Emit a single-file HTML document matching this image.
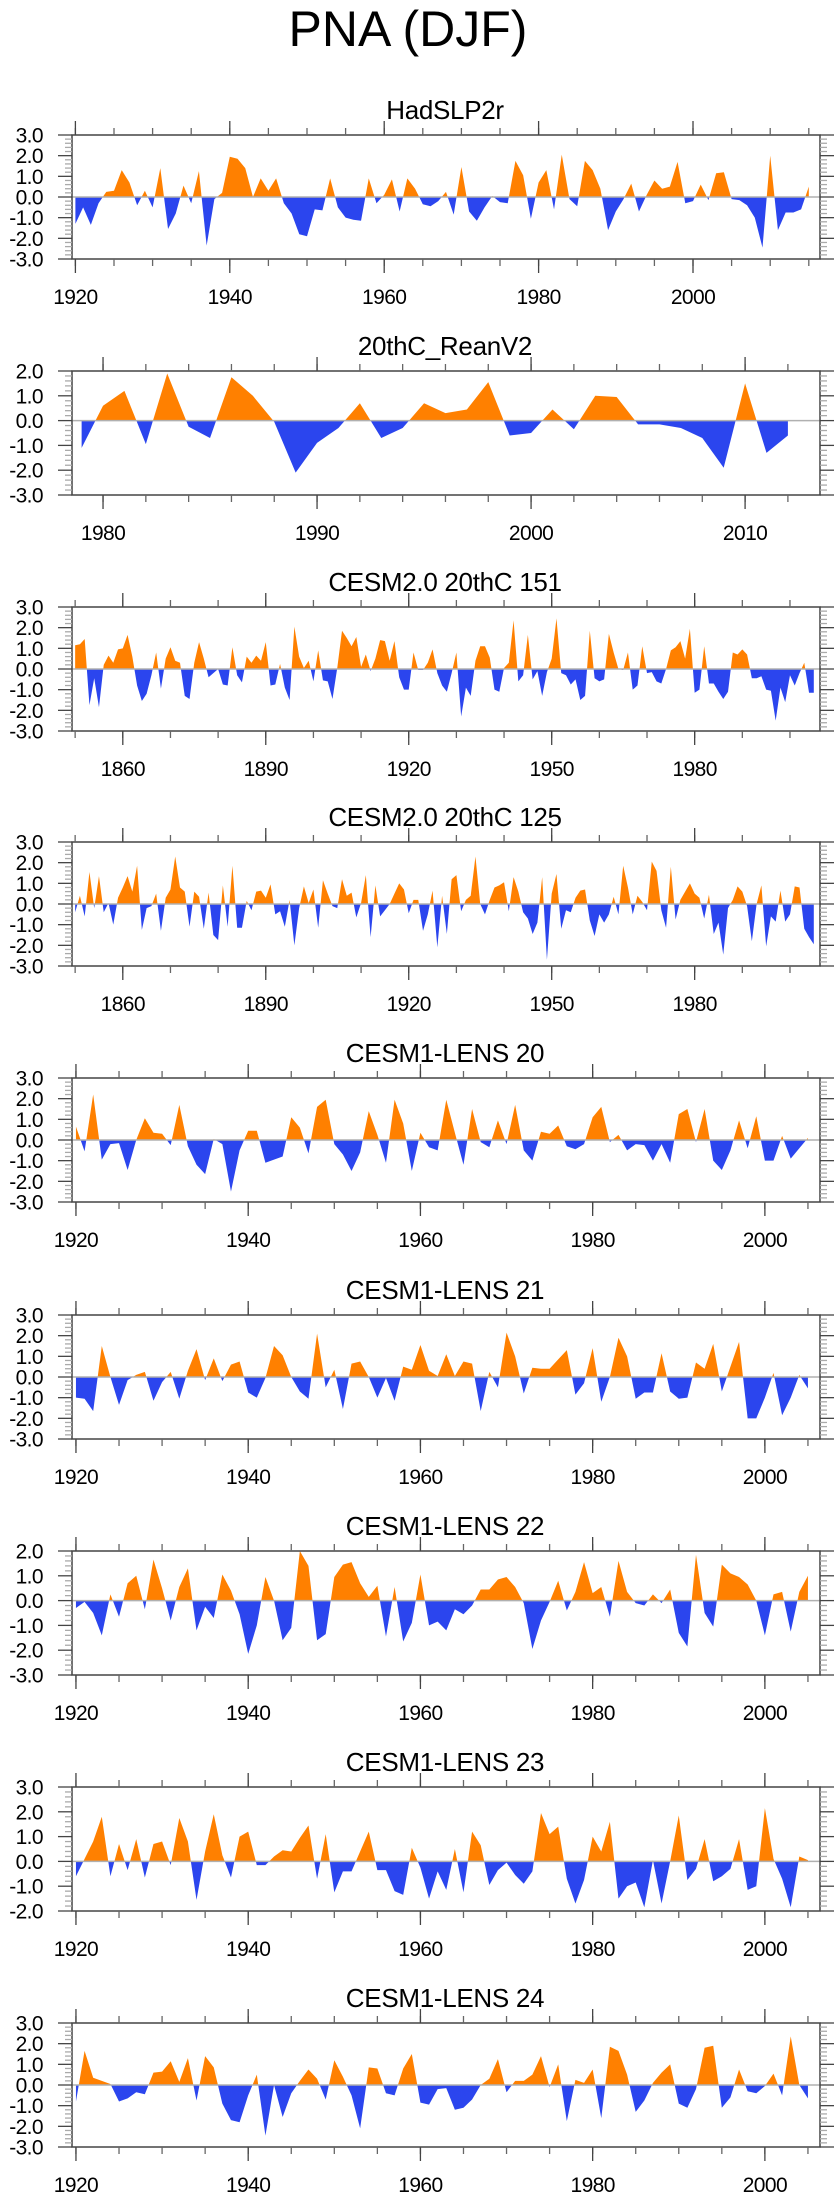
<!DOCTYPE html>
<html><head><meta charset="utf-8"><style>
html,body{margin:0;padding:0;background:#fff;}
svg{display:block;font-family:"Liberation Sans",sans-serif;}
</style></head><body>
<svg id="fig" width="840" height="2200" viewBox="0 0 840 2200" xmlns="http://www.w3.org/2000/svg">
<rect width="840" height="2200" fill="#fff"/>
<text x="408" y="46" font-size="50" text-anchor="middle" fill="#000">PNA (DJF)</text>
</svg>
<script>
const hadStart = 1920;
const hadValues = [-1.3,-0.5,-1.35,-0.3,0.25,0.3,1.3,0.7,-0.4,0.3,-0.5,1.4,-1.55,-0.8,0.55,-0.3,1.25,-2.35,-0.1,0.2,1.95,1.85,1.4,0.0,0.9,0.3,0.9,-0.3,-0.8,-1.8,-1.9,-0.6,-0.65,0.9,-0.5,-1.0,-1.1,-1.15,0.9,-0.3,0.1,0.85,-0.7,0.9,0.4,-0.35,-0.45,-0.2,0.25,-0.85,1.45,-0.7,-1.15,-0.5,0.05,-0.25,-0.3,1.75,1.05,-1.05,0.7,1.3,-0.6,2.05,-0.1,-0.45,1.75,1.3,0.4,-1.6,-0.7,-0.1,0.65,-0.7,0.1,0.8,0.4,0.5,1.7,-0.3,-0.2,0.6,-0.15,1.15,1.2,-0.1,-0.15,-0.4,-1.0,-2.45,2.0,-1.6,-0.75,-0.75,-0.6,0.5];
const reanStart = 1979;
const reanValues = [-1.1,0.6,1.2,-0.95,1.9,-0.25,-0.7,1.75,1.0,-0.05,-2.1,-0.9,-0.3,0.7,-0.7,-0.3,0.7,0.3,0.45,1.55,-0.6,-0.5,0.45,-0.35,1.0,0.95,-0.15,-0.15,-0.3,-0.7,-1.9,1.5,-1.3,-0.6];
const c151Start = 1850;
const c151Values = [1.15,1.2,1.45,-1.75,-0.45,-1.85,0.2,0.65,0.3,0.95,1.0,1.65,0.6,-0.8,-1.55,-1.2,-0.3,0.8,-0.95,0.5,1.05,0.4,0.3,-1.3,-1.45,0.3,1.3,0.5,-0.4,-0.2,0.0,-0.75,-0.8,1.05,-0.3,-0.65,0.6,0.3,0.65,0.4,1.3,-0.8,-0.75,0.25,-0.9,-1.5,2.05,0.6,0.05,0.4,-0.6,0.9,-0.55,-0.6,-1.45,0.05,1.85,1.5,1.1,1.55,0.1,0.7,-0.1,0.5,1.4,1.35,0.4,1.35,-0.4,-1.0,-1.0,0.8,-0.05,-0.05,0.3,0.95,-0.2,-0.8,-1.1,-0.2,0.8,-2.3,-0.9,-1.3,0.4,1.1,1.1,0.55,-1.0,-1.1,0.05,0.3,2.35,-0.6,-0.3,1.65,-0.5,-0.1,-1.3,-0.15,0.5,2.45,-0.2,-0.3,-0.75,-0.5,-1.5,-1.3,1.85,-0.45,-0.6,-0.5,1.7,0.8,0.0,-0.05,0.8,-1.0,-0.8,1.1,-0.2,-0.15,-0.6,-0.7,0.0,0.9,1.05,1.35,0.5,1.95,-1.15,-1.0,1.1,-0.7,-0.7,-1.1,-1.45,-1.1,0.8,0.7,0.95,0.7,-0.45,-0.45,-0.35,-1.0,-1.05,-2.5,-0.9,-1.6,-0.3,-0.8,-0.2,0.3,-1.15,-1.15];
const c125Start = 1850;
const c125Values = [-0.4,0.4,-0.6,1.55,-0.2,1.35,-0.4,0.05,-1.0,0.3,0.8,1.35,0.6,1.85,-1.25,-0.2,-0.1,0.5,-1.3,0.3,0.7,2.3,0.8,0.6,-1.1,0.6,0.35,-1.2,0.55,-1.5,-1.75,0.9,-1.1,1.85,-1.15,-1.15,0.15,-0.3,0.6,0.65,0.3,0.95,-0.5,-0.35,-1.1,0.2,-2.0,-0.2,0.85,0.05,0.7,-1.15,1.15,0.5,-0.1,-0.2,1.2,0.4,0.55,-0.65,0.05,1.4,-1.6,0.9,-0.6,-0.3,0.0,0.5,1.0,0.7,-0.45,0.2,0.2,-1.3,-0.5,0.65,-2.1,0.4,-1.45,1.2,1.4,-0.35,0.2,0.4,2.3,0.0,-0.5,0.2,0.8,0.9,1.05,-0.35,1.3,0.6,-0.4,-0.7,-1.45,-0.9,1.3,-2.7,0.5,1.45,-1.2,-0.3,-0.4,0.3,0.65,0.7,-0.8,-1.55,-0.5,-0.9,-0.5,0.35,-0.5,1.85,0.8,-0.5,0.4,0.1,-0.3,2.05,1.6,-0.3,-1.15,1.8,-0.75,0.2,0.6,1.0,0.5,0.3,-0.7,0.45,-1.45,-0.9,-2.45,-0.2,0.2,0.85,0.6,-0.1,-1.8,0.0,0.9,-2.05,-0.6,-0.85,0.65,-0.85,-0.5,0.85,0.8,-1.2,-1.6,-1.95];
const l20Start = 1920;
const l20Values = [0.65,-0.55,2.2,-0.95,-0.2,-0.15,-1.45,0.0,1.05,0.35,0.3,-0.25,1.7,-0.3,-1.2,-1.65,0.05,-0.2,-2.5,-0.5,0.45,0.45,-1.1,-0.95,-0.8,1.1,0.6,-0.65,1.6,1.95,-0.2,-0.7,-1.5,-0.6,1.4,0.25,-1.1,1.95,0.8,-1.5,0.35,-0.35,-0.5,1.95,0.35,-1.2,1.5,-0.1,-0.35,0.95,-0.2,1.7,-0.5,-1.0,0.4,0.3,0.7,-0.3,-0.45,-0.2,1.1,1.6,-0.1,0.25,-0.5,-0.2,-0.25,-1.0,-0.2,-1.1,1.25,1.5,-0.1,1.5,-1.0,-1.45,-0.5,0.95,-0.4,1.15,-1.0,-1.0,0.2,-0.9,-0.4,0.1];
const l21Start = 1920;
const l21Values = [-1.0,-1.05,-1.65,1.5,0.0,-1.35,-0.15,0.1,0.25,-1.15,-0.25,0.25,-1.05,0.3,1.35,-0.15,0.9,-0.2,0.6,0.75,-0.75,-1.0,-0.05,1.5,1.05,0.0,-0.7,-1.05,2.1,-0.5,0.35,-1.55,0.65,0.75,0.0,-1.0,-0.05,-1.15,0.5,0.35,1.55,0.3,0.05,1.1,0.05,0.75,0.65,-1.65,0.25,-0.5,2.15,1.0,-0.8,0.45,0.4,0.4,0.85,1.3,-0.85,-0.3,1.4,-1.2,0.0,1.9,1.0,-1.05,-0.75,-0.75,1.15,-0.7,-1.05,-1.0,0.7,0.4,1.6,-0.7,0.5,1.7,-2.0,-2.0,-1.0,0.2,-1.85,-1.0,0.1,-0.55];
const l22Start = 1920;
const l22Values = [-0.3,-0.05,-0.5,-1.4,0.25,-0.65,0.7,1.0,-0.35,1.65,0.5,-0.8,0.55,1.3,-1.2,-0.25,-0.7,1.05,0.4,-0.55,-2.15,-1.0,0.95,0.0,-1.6,-1.1,2.0,1.4,-1.6,-1.35,0.95,1.45,1.55,0.7,0.15,0.6,-1.45,0.55,-1.65,-0.9,1.05,-1.0,-0.85,-1.2,-0.35,-0.55,-0.2,0.45,0.45,0.85,0.95,0.55,-0.1,-1.95,-0.8,-0.05,0.8,-0.4,0.35,1.55,0.3,0.55,-0.65,1.6,0.35,-0.1,-0.2,0.25,-0.1,0.45,-1.3,-1.85,1.85,-0.5,-1.05,1.45,1.1,0.95,0.65,0.0,-1.4,0.25,0.35,-1.25,0.35,1.0];
const l23Start = 1920;
const l23Values = [-0.6,0.1,0.8,1.8,-0.6,0.7,-0.35,0.9,-0.65,0.7,0.8,-0.15,1.75,0.8,-1.55,0.4,1.9,0.25,-0.65,1.0,1.2,-0.15,-0.15,0.2,0.45,0.4,0.95,1.45,-0.7,1.1,-1.25,-0.4,-0.4,0.4,1.2,-0.35,-0.35,-1.2,-1.35,0.55,-0.25,-1.5,-0.4,-1.15,0.5,-1.25,1.2,0.65,-0.95,-0.35,-0.05,-0.55,-0.9,-0.4,1.95,1.1,1.4,-0.7,-1.7,-0.75,1.0,0.4,1.6,-1.5,-1.0,-0.85,-1.85,0.05,-1.7,0.0,1.85,-0.75,-0.3,0.9,-0.8,-0.6,-0.3,0.9,-1.15,-1.0,2.15,0.1,-0.7,-1.85,0.2,0.05];
const l24Start = 1920;
const l24Values = [-0.8,1.65,0.35,0.2,0.05,-0.8,-0.65,-0.35,-0.45,0.6,0.65,1.15,0.15,1.3,-0.75,1.4,0.85,-0.9,-1.7,-1.8,-0.5,0.5,-2.45,0.0,-1.55,-0.4,0.2,0.75,0.3,-0.7,1.2,0.4,-0.5,-2.1,0.85,0.8,-0.4,-0.5,0.8,1.5,-0.85,-0.95,-0.2,-0.15,-1.2,-1.1,-0.7,0.0,0.3,1.25,-0.35,0.2,0.2,0.5,1.4,-0.1,1.0,-1.75,0.25,0.1,0.75,-1.6,1.85,1.65,0.5,-1.3,-0.75,0.1,0.6,1.0,-0.9,-1.1,-0.2,1.8,1.9,-1.1,-0.6,0.75,-0.3,-0.4,-0.05,0.55,-0.5,2.35,0.0,-0.65];

const panelTitles = ["HadSLP2r","20thC_ReanV2","CESM2.0 20thC 151","CESM2.0 20thC 125","CESM1-LENS 20","CESM1-LENS 21","CESM1-LENS 22","CESM1-LENS 23","CESM1-LENS 24"];
const yearLabelsLong = [1920,1940,1960,1980,2000];
const yearLabelsRean = [1980,1990,2000,2010];
const yearLabelsCesm2 = [1860,1890,1920,1950,1980];

const NS = "http://www.w3.org/2000/svg";
const svg = document.getElementById('fig');
function mk(tag, attrs, parent){
  const e = document.createElementNS(NS, tag);
  for (const k in attrs) e.setAttribute(k, attrs[k]);
  (parent||svg).appendChild(e);
  return e;
}
const L = 72, R = 820, H = 124;
const panels = [
  {title:0, start:hadStart, vals:hadValues, ymin:-3, ymax:3, xmin:1919.56, xmax:2016.45, major:yearLabelsLong, minorStep:5, minorFrom:1920, minorTo:2015, top:135},
  {title:1, start:reanStart, vals:reanValues, ymin:-3, ymax:2, xmin:1978.55, xmax:2013.5, major:yearLabelsRean, minorStep:2, minorFrom:1980, minorTo:2012, top:371},
  {title:2, start:c151Start, vals:c151Values, ymin:-3, ymax:3, xmin:1849.34, xmax:2006.3, major:yearLabelsCesm2, minorStep:10, minorFrom:1850, minorTo:2000, top:607},
  {title:3, start:c125Start, vals:c125Values, ymin:-3, ymax:3, xmin:1849.34, xmax:2006.3, major:yearLabelsCesm2, minorStep:10, minorFrom:1850, minorTo:2000, top:842},
  {title:4, start:l20Start, vals:l20Values, ymin:-3, ymax:3, xmin:1919.54, xmax:2006.4, major:yearLabelsLong, minorStep:5, minorFrom:1920, minorTo:2005, top:1078},
  {title:5, start:l21Start, vals:l21Values, ymin:-3, ymax:3, xmin:1919.54, xmax:2006.4, major:yearLabelsLong, minorStep:5, minorFrom:1920, minorTo:2005, top:1315},
  {title:6, start:l22Start, vals:l22Values, ymin:-3, ymax:2, xmin:1919.54, xmax:2006.4, major:yearLabelsLong, minorStep:5, minorFrom:1920, minorTo:2005, top:1551},
  {title:7, start:l23Start, vals:l23Values, ymin:-2, ymax:3, xmin:1919.54, xmax:2006.4, major:yearLabelsLong, minorStep:5, minorFrom:1920, minorTo:2005, top:1787},
  {title:8, start:l24Start, vals:l24Values, ymin:-3, ymax:3, xmin:1919.54, xmax:2006.4, major:yearLabelsLong, minorStep:5, minorFrom:1920, minorTo:2005, top:2023}
];

panels.forEach((p, i) => {
  const top = p.top, bot = top + H;
  const xs = yr => L + (yr - p.xmin) / (p.xmax - p.xmin) * (R - L);
  const ys = v => bot - (v - p.ymin) / (p.ymax - p.ymin) * H;
  const g = mk('g', {});
  
  

  const t = mk('text', {x: 445, y: top - 16, 'font-size': 26, 'letter-spacing': '-0.3', 'text-anchor': 'middle', fill: '#000'}, g);
  
  
  t.textContent = panelTitles[p.title];

  const y0 = ys(0);
  const x0 = xs(p.start), x1 = xs(p.start + p.vals.length - 1);
  let d = 'M' + x0 + ',' + y0;
  p.vals.forEach((v, k) => { d += ' L' + xs(p.start + k).toFixed(2) + ',' + ys(v).toFixed(2); });
  d += ' L' + x1 + ',' + y0 + ' Z';
  const cidA = 'ca' + i, cidB = 'cb' + i;
  const defs = mk('defs', {}, g);
  const ca = mk('clipPath', {id: cidA}, defs);
  mk('rect', {x: L, y: top, width: R - L, height: y0 - top}, ca);
  const cb = mk('clipPath', {id: cidB}, defs);
  mk('rect', {x: L, y: y0, width: R - L, height: bot - y0}, cb);
  const pos = mk('path', {d: d, fill: '#FF8000', 'clip-path': 'url(#' + cidA + ')'}, g);
  
  
  const neg = mk('path', {d: d, fill: '#2B45EE', 'clip-path': 'url(#' + cidB + ')'}, g);
  
  

  const zl = mk('line', {x1: L, x2: R, y1: y0, y2: y0, stroke: '#b0b0b0', 'stroke-width': 1.5}, g);
  
  

  const box = mk('rect', {x: L, y: top, width: R - L, height: H, fill: 'none', stroke: '#444', 'stroke-width': 1.5}, g);
  
  

  for (let v = p.ymin; v <= p.ymax + 1e-9; v += 0.2) {
    const yy = ys(v);
    const isMajor = Math.abs(v - Math.round(v)) < 1e-6;
    const len = isMajor ? 14 : 7;
    const col = isMajor ? '#444' : '#aaa';
    mk('line', {x1: L - len, x2: L, y1: yy, y2: yy, stroke: col, 'stroke-width': 1.3}, g);
    mk('line', {x1: R, x2: R + len, y1: yy, y2: yy, stroke: col, 'stroke-width': 1.3}, g);
    if (isMajor) {
      const lab = mk('text', {x: 43, y: yy + 7.5, 'font-size': 21, 'letter-spacing': '-0.6', 'text-anchor': 'end', fill: '#000'}, g);
      
      
      lab.textContent = Math.round(v).toFixed(1);
    }
  }
  for (let yr = p.minorFrom; yr <= p.minorTo; yr += p.minorStep) {
    const xx = xs(yr);
    mk('line', {x1: xx, x2: xx, y1: top - 7, y2: top, stroke: '#666', 'stroke-width': 1.3}, g);
    mk('line', {x1: xx, x2: xx, y1: bot, y2: bot + 7, stroke: '#666', 'stroke-width': 1.3}, g);
  }
  p.major.forEach(yr => {
    const xx = xs(yr);
    mk('line', {x1: xx, x2: xx, y1: top - 14, y2: top, stroke: '#444', 'stroke-width': 1.3}, g);
    mk('line', {x1: xx, x2: xx, y1: bot, y2: bot + 14, stroke: '#444', 'stroke-width': 1.3}, g);
    const lab = mk('text', {x: xx, y: bot + 45, 'font-size': 21, 'letter-spacing': '-0.6', 'text-anchor': 'middle', fill: '#000'}, g);
    
    
    lab.textContent = String(yr);
  });
});
</script>
</body></html>
